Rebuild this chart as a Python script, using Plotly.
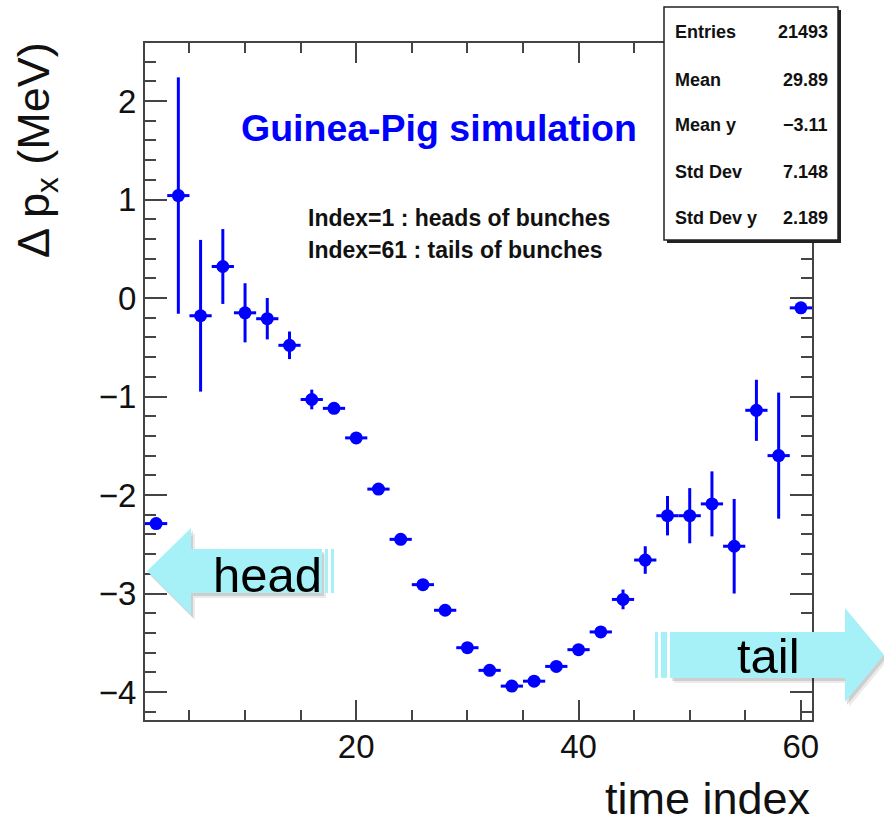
import plotly.graph_objects as go

# ---- data ----
time_index = list(range(2, 61, 2))
delta_px = [-2.29, 1.04, -0.18, 0.32, -0.15, -0.21, -0.48, -1.03, -1.12, -1.42,
            -1.94, -2.45, -2.91, -3.17, -3.55, -3.78, -3.94, -3.89, -3.74, -3.57,
            -3.39, -3.06, -2.66, -2.21, -2.21, -2.09, -2.52, -1.14, -1.60, -0.10]
delta_px_err = [0.03, 1.20, 0.77, 0.38, 0.30, 0.21, 0.14, 0.10, 0.04, 0.03,
                0.03, 0.03, 0.03, 0.03, 0.03, 0.03, 0.03, 0.03, 0.03, 0.03,
                0.05, 0.10, 0.14, 0.20, 0.28, 0.33, 0.48, 0.31, 0.64, 0.03]
bin_half_width = [1.0] * len(time_index)

stats_labels = ["Entries", "Mean", "Mean y", "Std Dev", "Std Dev y"]
stats_values = ["21493", "29.89", "\u22123.11", "7.148", "2.189"]

W, H = 884, 824
L, R, T, B = 145, 812, 43, 720
FONT = "Liberation Sans, Arial, Helvetica, sans-serif"
BLUE = "#0000ff"
CYAN = "#a6f1f8"


def px(x):
    return (x - L) / (R - L)


def py(y):
    return (B - y) / (B - T)


def path(points):
    s = "M " + " L ".join(f"{px(x):.5f},{py(y):.5f}" for x, y in points) + " Z"
    return s


fig = go.Figure(go.Scatter(
    x=time_index, y=delta_px, mode="markers",
    marker=dict(color=BLUE, size=13),
    error_x=dict(type="data", array=bin_half_width, color=BLUE, thickness=3, width=0),
    error_y=dict(type="data", array=delta_px_err, color=BLUE, thickness=3, width=0),
    showlegend=False, cliponaxis=False,
))

axis_common = dict(
    showgrid=False, zeroline=False, showline=True, linecolor="#444", linewidth=2,
    mirror="ticks", ticks="inside", tickwidth=2, tickcolor="#444",
    tickfont=dict(family=FONT, size=33, color="#111"),
)

fig.update_layout(
    width=W, height=H,
    margin=dict(l=L, r=W - R, t=T, b=H - B),
    paper_bgcolor="white", plot_bgcolor="white",
    xaxis=dict(range=[1, 61], tickmode="linear", tick0=0, dtick=20, ticklen=20,
               ticklabelstandoff=-4,
               minor=dict(tick0=0, dtick=5, ticklen=10, ticks="inside", tickwidth=2, tickcolor="#444"),
               **axis_common),
    yaxis=dict(range=[-4.284, 2.589], tickmode="linear", tick0=0, dtick=1, ticklen=22,
               minor=dict(tick0=0, dtick=0.2, ticklen=11, ticks="inside", tickwidth=2, tickcolor="#444"),
               **axis_common),
)

shapes = []
# head / tail arrows (soft shadow + body)
head_pts = [(147, 571), (191, 528), (191, 549), (322, 549), (322, 593), (191, 593), (191, 615)]
tail_pts = [(670, 632), (845, 632), (845, 608), (884, 655), (845, 702), (845, 678), (670, 678)]
for pts in (head_pts, tail_pts):
    for off, a in ((5, 0.08), (3, 0.12)):
        shapes.append(dict(type="path", xref="paper", yref="paper", layer="above",
                           path=path([(x + off - 1, y + off) for x, y in pts]),
                           fillcolor=f"rgba(0,0,0,{a})", line=dict(width=0)))
    shapes.append(dict(type="path", xref="paper", yref="paper", layer="above",
                       path=path(pts), fillcolor=CYAN, line=dict(width=0)))
for x0, x1, y0, y1 in [(325, 328, 549, 593), (331, 334, 549, 593),
                       (655, 658, 632, 678), (661, 667, 632, 678)]:
    shapes.append(dict(type="rect", xref="paper", yref="paper", layer="above",
                       x0=px(x0), x1=px(x1), y0=py(y0), y1=py(y1),
                       fillcolor=CYAN, line=dict(width=0)))

# stats box
shapes.append(dict(type="rect", xref="paper", yref="paper", layer="above",
                   x0=px(667), x1=px(841), y0=py(10), y1=py(243),
                   fillcolor="#222", line=dict(width=0)))
shapes.append(dict(type="rect", xref="paper", yref="paper", layer="above",
                   x0=px(664), x1=px(838), y0=py(7), y1=py(240),
                   fillcolor="white", line=dict(color="#222", width=1.5)))
fig.update_layout(shapes=shapes)

ann = []
ann.append(dict(text="<b>Guinea-Pig simulation</b>", x=px(239), y=py(128), xanchor="left", yanchor="middle",
                font=dict(family=FONT, size=37.5, color=BLUE)))
ann.append(dict(text="<b>Index=1 : heads of bunches</b>", x=px(306), y=py(218), xanchor="left", yanchor="middle",
                font=dict(family=FONT, size=23, color="#111")))
ann.append(dict(text="<b>Index=61 : tails of bunches</b>", x=px(306), y=py(250), xanchor="left", yanchor="middle",
                font=dict(family=FONT, size=23, color="#111")))
for lab, val, yy in zip(stats_labels, stats_values, [32, 80, 125, 172, 218]):
    ann.append(dict(text=f"<b>{lab}</b>", x=px(673), y=py(yy), xanchor="left", yanchor="middle",
                    font=dict(family=FONT, size=18, color="#111")))
    ann.append(dict(text=f"<b>{val}</b>", x=px(830), y=py(yy), xanchor="right", yanchor="middle",
                    font=dict(family=FONT, size=18, color="#111")))
ann.append(dict(text="head", x=px(211), y=py(575), xanchor="left", yanchor="middle",
                font=dict(family=FONT, size=49, color="black")))
ann.append(dict(text="tail", x=px(735), y=py(656), xanchor="left", yanchor="middle",
                font=dict(family=FONT, size=49, color="black")))
ann.append(dict(text="time index", x=px(812), y=py(798), xanchor="right", yanchor="middle",
                borderpad=0, font=dict(family=FONT, size=45, color="#111")))
ann.append(dict(text="\u0394 p<sub>x</sub> (MeV)", x=px(37), y=py(150), xanchor="center", yanchor="middle",
                textangle=-90, font=dict(family=FONT, size=45, color="#111")))
for a in ann:
    a.update(xref="paper", yref="paper", showarrow=False)
fig.update_layout(annotations=ann)

fig.write_html("out.html")
